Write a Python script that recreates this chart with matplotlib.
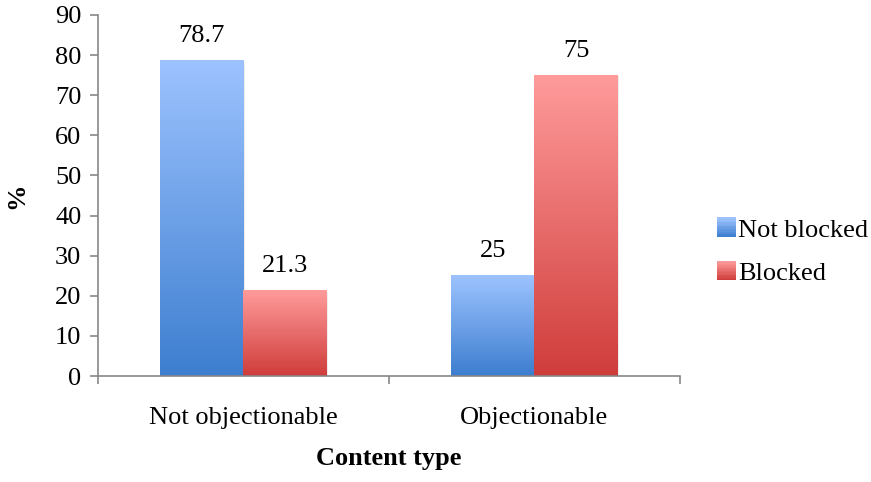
import numpy as np
import matplotlib
matplotlib.use("Agg")
import matplotlib.pyplot as plt
from matplotlib.patches import Rectangle
from matplotlib.colors import LinearSegmentedColormap
from matplotlib.legend_handler import HandlerBase

categories = ["Not objectionable", "Objectionable"]
not_blocked = [78.7, 25]
blocked = [21.3, 75]
series_names = ["Not blocked", "Blocked"]

# top colour, bottom colour for each series
blue = ("#9dc3ff", "#3d7ecf")
red = ("#ff9b9b", "#cf3d3b")

plt.rcParams["font.family"] = ["Liberation Serif", "DejaVu Serif"]
FS = 19

fig = plt.figure(figsize=(8.71, 4.82), dpi=100)
ax = fig.add_axes([0.1125, 0.2199, 0.6682, 0.749])

x = np.arange(len(categories))
w = 0.286


def gradient_bars(ax, xs, vals, cols):
    bars = ax.bar(xs, vals, w, color="none", edgecolor="none")
    cmap = LinearSegmentedColormap.from_list("g", [cols[1], cols[0]])
    grad = np.linspace(0, 1, 256).reshape(-1, 1)
    for b in bars:
        x0, y0 = b.get_x(), b.get_y()
        bw, bh = b.get_width(), b.get_height()
        # soft drop shadow on the right
        ax.add_patch(Rectangle((x0 + 0.006, y0), bw, bh - 0.3, color="#000000",
                               alpha=0.07, lw=0, zorder=1))
        ax.imshow(grad, cmap=cmap, origin="lower", aspect="auto",
                  extent=(x0, x0 + bw, y0, y0 + bh), zorder=2)
    return bars


b1 = gradient_bars(ax, x - w / 2, not_blocked, blue)
b2 = gradient_bars(ax, x + w / 2, blocked, red)

for bars, vals in ((b1, not_blocked), (b2, blocked)):
    for b, v in zip(bars, vals):
        ax.text(b.get_x() + b.get_width() / 2, v + 3.4, "{:g}".format(v),
                ha="center", va="bottom", fontsize=FS)

ax.set_xlim(-0.5, 1.5)
ax.set_ylim(0, 90)
ax.set_yticks(range(0, 91, 10))
ax.set_xticks([-0.5, 0.5, 1.5])
ax.set_xticklabels([])
ax.set_xticks(x, minor=True)
ax.set_xticklabels(categories, minor=True, fontsize=FS)
ax.tick_params(axis="x", which="minor", length=0, pad=22)
ax.tick_params(axis="x", which="major", length=6, color="#878787", width=1.2)
ax.tick_params(axis="y", length=6, color="#878787", width=1.2, labelsize=FS, pad=6)

for s in ("top", "right"):
    ax.spines[s].set_visible(False)
for s in ("left", "bottom"):
    ax.spines[s].set_color("#878787")
    ax.spines[s].set_linewidth(1.2)

ax.set_xlabel("Content type", fontsize=FS, fontweight="bold", labelpad=13)
ax.set_ylabel("%", fontsize=FS, fontweight="bold", labelpad=19)


class GradientHandler(HandlerBase):
    def __init__(self, cols):
        super().__init__()
        self.cols = cols

    def create_artists(self, legend, orig_handle, xdescent, ydescent,
                       width, height, fontsize, trans):
        cmap = LinearSegmentedColormap.from_list("g", [self.cols[1], self.cols[0]])
        n = 14
        size = 14
        x0 = -xdescent + width - size
        y0 = -ydescent + (height - size) / 2
        arts = []
        for i in range(n):
            r = Rectangle((x0, y0 + i * size / n), size, size / n + 0.2,
                          facecolor=cmap(i / (n - 1)), edgecolor="none",
                          transform=trans)
            arts.append(r)
        return arts


h1 = Rectangle((0, 0), 1, 1)
h2 = Rectangle((0, 0), 1, 1)
fig.legend([h1, h2], series_names, loc="center left",
           bbox_to_anchor=(0.794, 0.478), frameon=False, fontsize=FS,
           handlelength=0.8, handletextpad=0.05, labelspacing=0.75,
           handler_map={h1: GradientHandler(blue), h2: GradientHandler(red)})

fig.savefig("out.png", dpi=100)
